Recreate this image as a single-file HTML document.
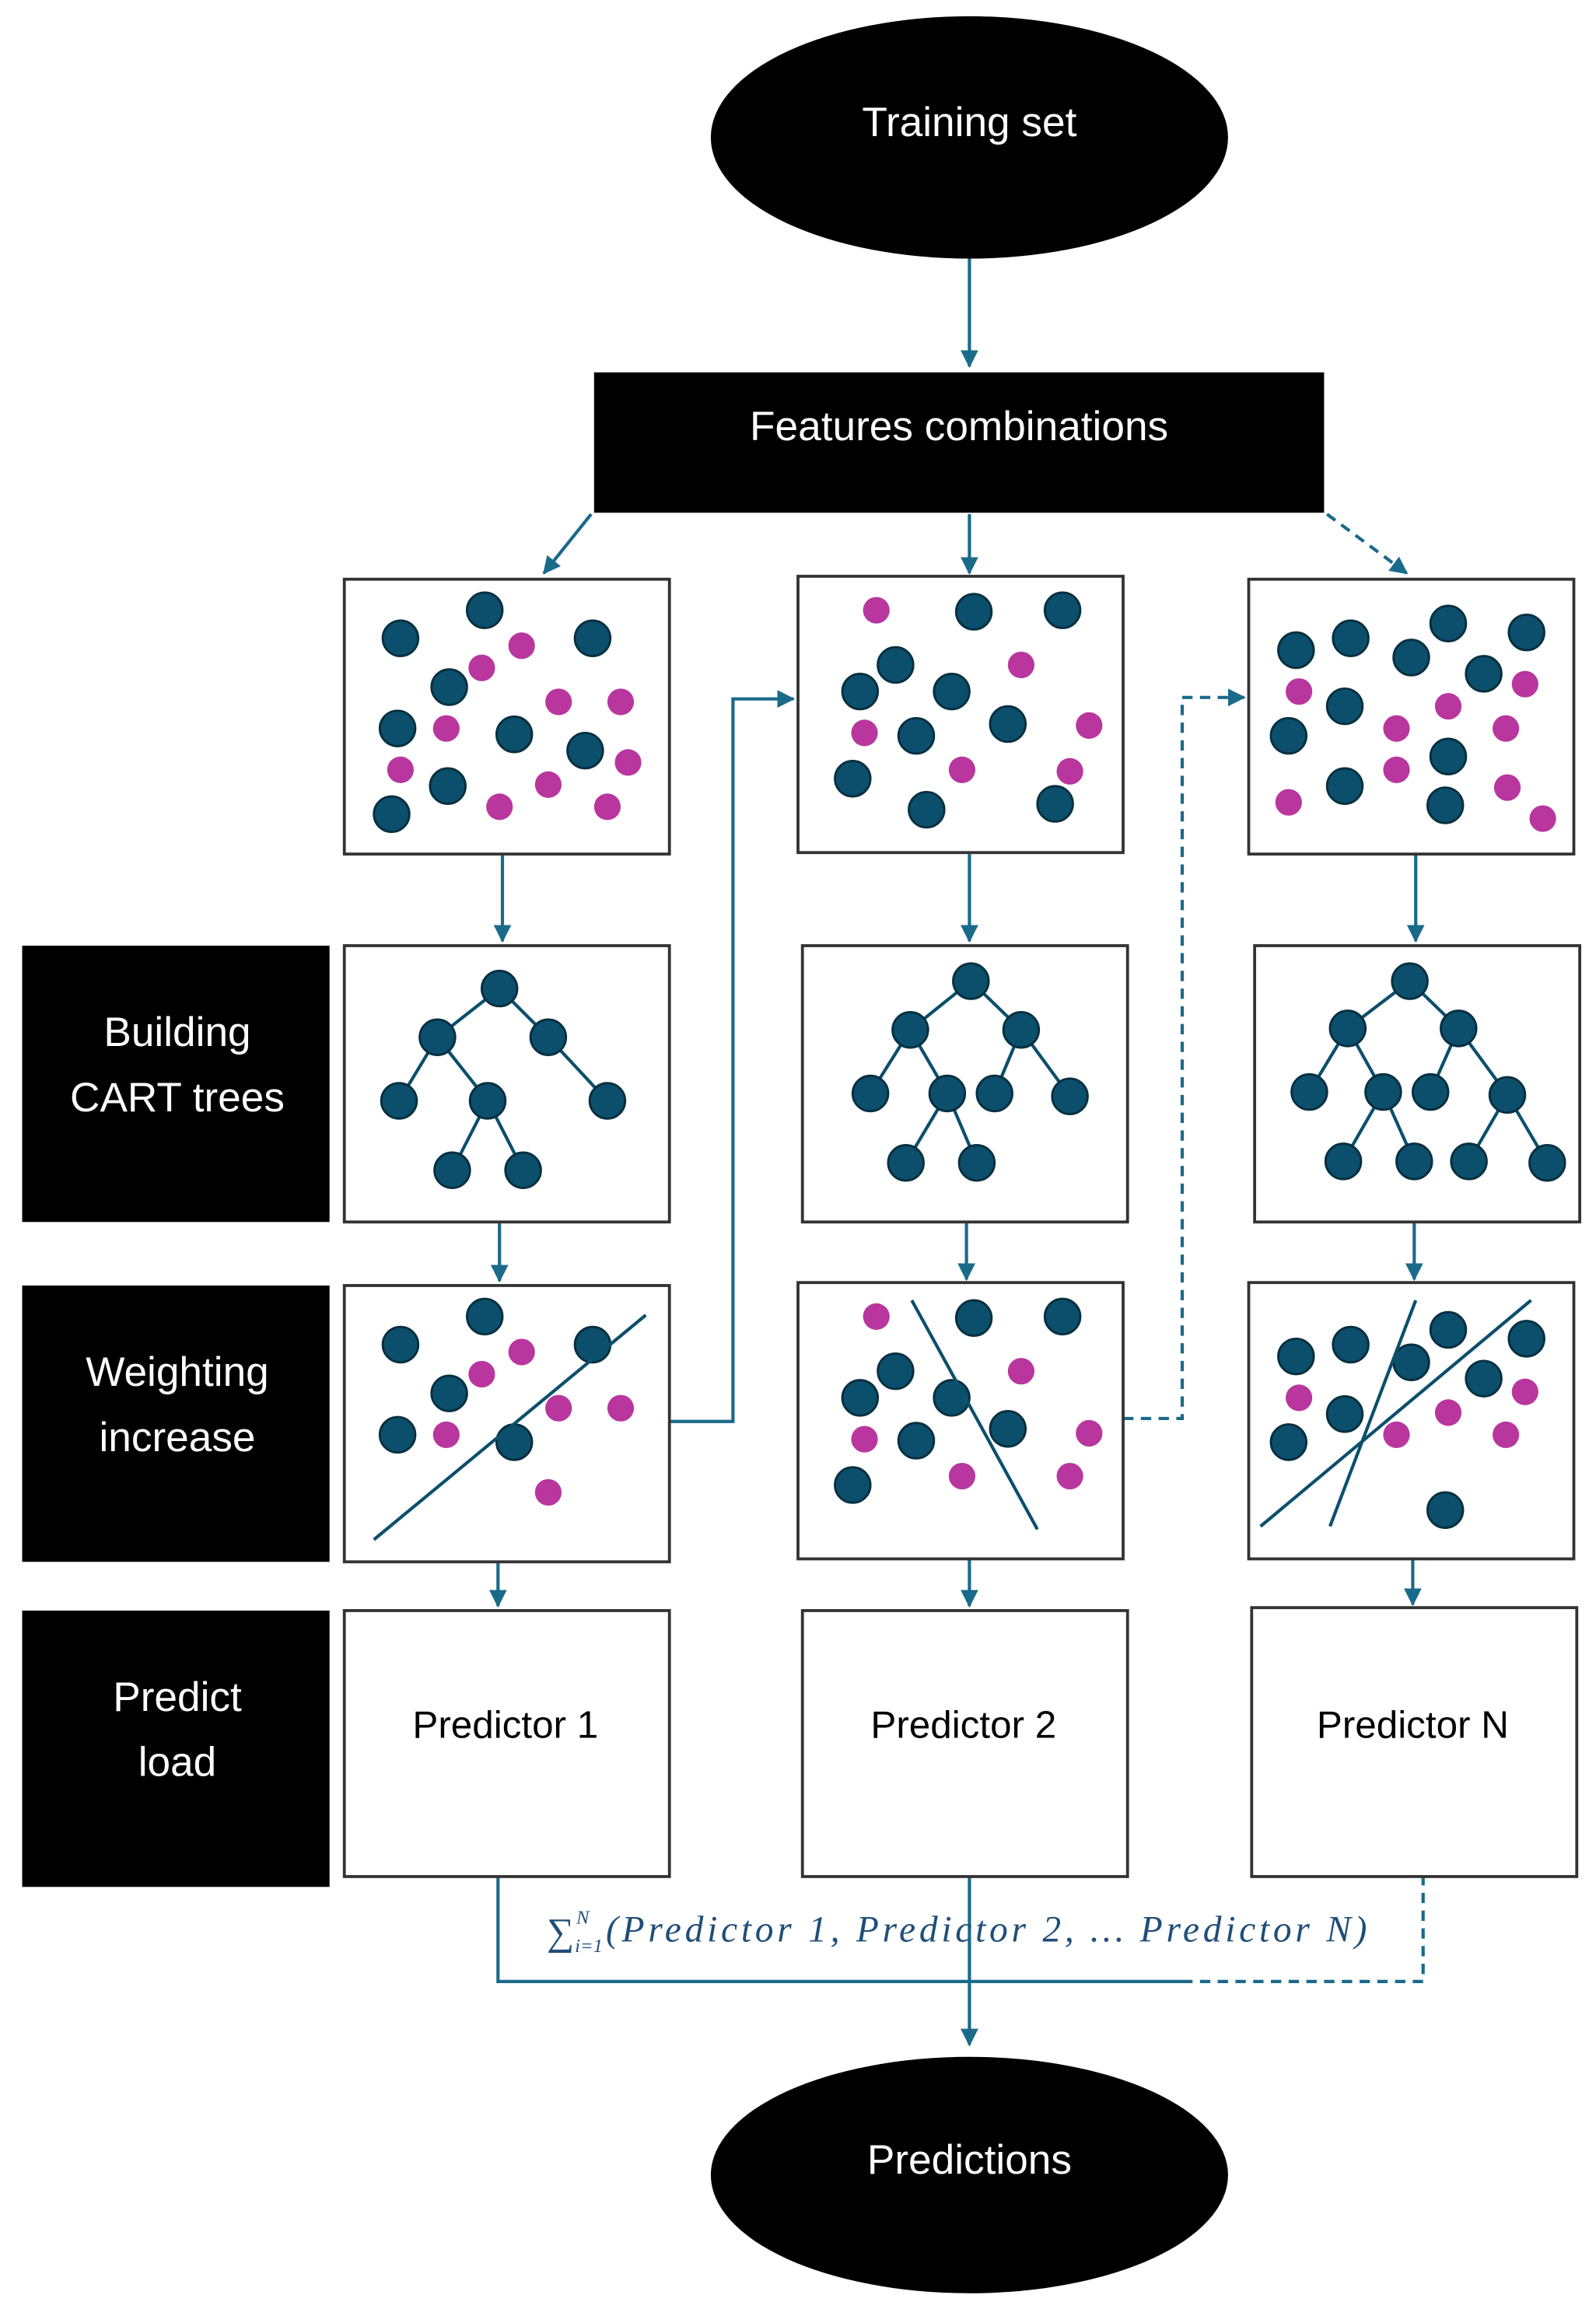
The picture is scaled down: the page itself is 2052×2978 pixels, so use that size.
<!DOCTYPE html>
<html><head><meta charset="utf-8"><style>
html,body{margin:0;padding:0;background:#fff}
svg{display:block}
.s{font-family:"Liberation Sans",sans-serif}
.f{font-family:"Liberation Serif",serif;font-style:italic;fill:#1f4e79}
</style></head><body>
<svg width="2052" height="2978" viewBox="0 0 1080 1567.4" preserveAspectRatio="none" xmlns="http://www.w3.org/2000/svg">
<defs>
<marker id="ar2" markerWidth="12" markerHeight="12" refX="11" refY="6" orient="auto" markerUnits="userSpaceOnUse"><path d="M0,0 L12,6 L0,12 z" fill="#1a6a8a"/></marker>
</defs>
<rect width="1080" height="1568" fill="#fff"/>
<g stroke="#1a6a8a" stroke-width="2.2" fill="none">
<line x1="656" y1="175" x2="656" y2="248" marker-end="url(#ar2)"/>
<line x1="400" y1="348" x2="368" y2="388" marker-end="url(#ar2)"/>
<line x1="656" y1="348" x2="656" y2="388" marker-end="url(#ar2)"/>
<line x1="898" y1="348" x2="952" y2="388" stroke-dasharray="7,5" marker-end="url(#ar2)"/>
<line x1="340" y1="578" x2="340" y2="637" marker-end="url(#ar2)"/>
<line x1="656" y1="578" x2="656" y2="637" marker-end="url(#ar2)"/>
<line x1="958" y1="578" x2="958" y2="637" marker-end="url(#ar2)"/>
<line x1="338" y1="827" x2="338" y2="867" marker-end="url(#ar2)"/>
<line x1="654" y1="827" x2="654" y2="866" marker-end="url(#ar2)"/>
<line x1="957" y1="827" x2="957" y2="866" marker-end="url(#ar2)"/>
<line x1="337" y1="1057" x2="337" y2="1087" marker-end="url(#ar2)"/>
<line x1="656" y1="1055" x2="656" y2="1087" marker-end="url(#ar2)"/>
<line x1="956" y1="1055" x2="956" y2="1086" marker-end="url(#ar2)"/>
<polyline points="453,962 496,962 496,473 537,473" marker-end="url(#ar2)"/>
<polyline points="760,960 800,960 800,472 842,472" stroke-dasharray="7,5" marker-end="url(#ar2)"/>
<polyline points="337,1270 337,1341 800,1341"/>
<polyline points="800,1341 963,1341 963,1270" stroke-dasharray="7,5"/>
<line x1="656" y1="1270" x2="656" y2="1384" marker-end="url(#ar2)"/>
</g>
<ellipse cx="656" cy="93" rx="175" ry="82" fill="#000"/>
<text class="s" x="656" y="92" font-size="28" fill="#fff" text-anchor="middle">Training set</text>
<rect x="402" y="252" width="494" height="95" fill="#000"/>
<text class="s" x="649" y="298" font-size="28" fill="#fff" text-anchor="middle">Features combinations</text>
<ellipse cx="656" cy="1472" rx="175" ry="80" fill="#000"/>
<text class="s" x="656" y="1471" font-size="28" fill="#fff" text-anchor="middle">Predictions</text>
<g fill="#000">
<rect x="15" y="640" width="208" height="187"/>
<rect x="15" y="870" width="208" height="187"/>
<rect x="15" y="1090" width="208" height="187"/>
</g>
<g class="s" font-size="28" fill="#fff" text-anchor="middle">
<text x="120" y="708">Building</text><text x="120" y="752">CART trees</text>
<text x="120" y="938">Weighting</text><text x="120" y="982">increase</text>
<text x="120" y="1158">Predict</text><text x="120" y="1202">load</text>
</g>
<g fill="#fff" stroke="#333" stroke-width="2">
<rect x="233" y="392" width="220" height="186"/><rect x="540" y="390" width="220" height="187"/><rect x="845" y="392" width="220" height="186"/>
<rect x="233" y="640" width="220" height="187"/><rect x="543" y="640" width="220" height="187"/><rect x="849" y="640" width="220" height="187"/>
<rect x="233" y="870" width="220" height="187"/><rect x="540" y="868" width="220" height="187"/><rect x="845" y="868" width="220" height="187"/>
<rect x="233" y="1090" width="220" height="180"/><rect x="543" y="1090" width="220" height="180"/><rect x="847" y="1088" width="220" height="182"/>
</g>
<g class="s" font-size="26" fill="#000" text-anchor="middle">
<text x="342" y="1176">Predictor 1</text><text x="652" y="1176">Predictor 2</text><text x="956" y="1176">Predictor N</text>
</g>
<text class="f" x="370" y="1316" font-size="26" style="font-style:normal">∑</text>
<text class="f" x="390" y="1302" font-size="13">N</text>
<text class="f" x="389" y="1321" font-size="13">i=1</text>
<text class="f" x="410" y="1314" font-size="25" textLength="515" lengthAdjust="spacing">(Predictor 1, Predictor 2, … Predictor N)</text>
<g fill="#0b4f6c" stroke="#062f40" stroke-width="1.5">
<circle cx="271" cy="432" r="12"/><circle cx="328" cy="413" r="12"/><circle cx="401" cy="432" r="12"/><circle cx="304" cy="465" r="12"/><circle cx="269" cy="493" r="12"/><circle cx="348" cy="497" r="12"/><circle cx="396" cy="508" r="12"/><circle cx="303" cy="532" r="12"/><circle cx="265" cy="551" r="12"/>
<circle cx="659" cy="414" r="12"/><circle cx="719" cy="413" r="12"/><circle cx="606" cy="450" r="12"/><circle cx="582" cy="468" r="12"/><circle cx="644" cy="468" r="12"/><circle cx="682" cy="490" r="12"/><circle cx="620" cy="498" r="12"/><circle cx="577" cy="527" r="12"/><circle cx="627" cy="548" r="12"/><circle cx="714" cy="544" r="12"/>
<circle cx="877" cy="440" r="12"/><circle cx="914" cy="432" r="12"/><circle cx="980" cy="422" r="12"/><circle cx="1033" cy="428" r="12"/><circle cx="955" cy="445" r="12"/><circle cx="1004" cy="456" r="12"/><circle cx="910" cy="478" r="12"/><circle cx="872" cy="498" r="12"/><circle cx="980" cy="512" r="12"/><circle cx="910" cy="532" r="12"/><circle cx="978" cy="545" r="12"/>
<circle cx="271" cy="910" r="12"/><circle cx="328" cy="891" r="12"/><circle cx="401" cy="910" r="12"/><circle cx="304" cy="943" r="12"/><circle cx="269" cy="971" r="12"/><circle cx="348" cy="976" r="12"/>
<circle cx="659" cy="892" r="12"/><circle cx="719" cy="891" r="12"/><circle cx="606" cy="928" r="12"/><circle cx="582" cy="946" r="12"/><circle cx="644" cy="946" r="12"/><circle cx="682" cy="967" r="12"/><circle cx="620" cy="975" r="12"/><circle cx="577" cy="1005" r="12"/>
<circle cx="877" cy="918" r="12"/><circle cx="914" cy="910" r="12"/><circle cx="955" cy="922" r="12"/><circle cx="980" cy="900" r="12"/><circle cx="1033" cy="906" r="12"/><circle cx="1004" cy="933" r="12"/><circle cx="910" cy="957" r="12"/><circle cx="872" cy="976" r="12"/><circle cx="978" cy="1022" r="12"/>
</g>
<g fill="#b8369e">
<circle cx="353" cy="437" r="9"/><circle cx="326" cy="452" r="9"/><circle cx="378" cy="475" r="9"/><circle cx="420" cy="475" r="9"/><circle cx="302" cy="493" r="9"/><circle cx="271" cy="521" r="9"/><circle cx="425" cy="516" r="9"/><circle cx="371" cy="531" r="9"/><circle cx="338" cy="546" r="9"/><circle cx="411" cy="546" r="9"/>
<circle cx="593" cy="413" r="9"/><circle cx="691" cy="450" r="9"/><circle cx="585" cy="496" r="9"/><circle cx="737" cy="491" r="9"/><circle cx="651" cy="521" r="9"/><circle cx="724" cy="522" r="9"/>
<circle cx="879" cy="468" r="9"/><circle cx="1032" cy="463" r="9"/><circle cx="945" cy="493" r="9"/><circle cx="980" cy="478" r="9"/><circle cx="1019" cy="493" r="9"/><circle cx="945" cy="521" r="9"/><circle cx="1020" cy="533" r="9"/><circle cx="872" cy="543" r="9"/><circle cx="1044" cy="554" r="9"/>
<circle cx="353" cy="915" r="9"/><circle cx="326" cy="930" r="9"/><circle cx="378" cy="953" r="9"/><circle cx="420" cy="953" r="9"/><circle cx="302" cy="971" r="9"/><circle cx="371" cy="1010" r="9"/>
<circle cx="593" cy="891" r="9"/><circle cx="691" cy="928" r="9"/><circle cx="585" cy="974" r="9"/><circle cx="737" cy="970" r="9"/><circle cx="651" cy="999" r="9"/><circle cx="724" cy="999" r="9"/>
<circle cx="879" cy="946" r="9"/><circle cx="1032" cy="942" r="9"/><circle cx="945" cy="971" r="9"/><circle cx="980" cy="956" r="9"/><circle cx="1019" cy="971" r="9"/>
</g>
<g stroke="#0b4f6c" stroke-width="2.2">
<line x1="253" y1="1042" x2="437" y2="890"/>
<line x1="617" y1="880" x2="702" y2="1035"/>
<line x1="853" y1="1033" x2="1036" y2="880"/>
<line x1="900" y1="1033" x2="958" y2="880"/>
<path d="M338,669L296,702M338,669L371,702M296,702L270,745M296,702L330,745M371,702L411,745M330,745L306,792M330,745L354,792"/>
<path d="M657,664L616,697M657,664L691,697M616,697L589,740M616,697L641,740M691,697L673,740M691,697L724,742M641,740L613,787M641,740L661,787"/>
<path d="M954,664L912,696M954,664L987,696M912,696L886,739M912,696L936,739M987,696L968,739M987,696L1020,741M936,739L909,786M936,739L957,786M1020,741L994,786M1020,741L1047,787"/>
</g>
<g fill="#0b4f6c" stroke="#062f40" stroke-width="1.5">
<circle cx="338" cy="669" r="12"/><circle cx="296" cy="702" r="12"/><circle cx="371" cy="702" r="12"/><circle cx="270" cy="745" r="12"/><circle cx="330" cy="745" r="12"/><circle cx="411" cy="745" r="12"/><circle cx="306" cy="792" r="12"/><circle cx="354" cy="792" r="12"/>
<circle cx="657" cy="664" r="12"/><circle cx="616" cy="697" r="12"/><circle cx="691" cy="697" r="12"/><circle cx="589" cy="740" r="12"/><circle cx="641" cy="740" r="12"/><circle cx="673" cy="740" r="12"/><circle cx="724" cy="742" r="12"/><circle cx="613" cy="787" r="12"/><circle cx="661" cy="787" r="12"/>
<circle cx="954" cy="664" r="12"/><circle cx="912" cy="696" r="12"/><circle cx="987" cy="696" r="12"/><circle cx="886" cy="739" r="12"/><circle cx="936" cy="739" r="12"/><circle cx="968" cy="739" r="12"/><circle cx="1020" cy="741" r="12"/><circle cx="909" cy="786" r="12"/><circle cx="957" cy="786" r="12"/><circle cx="994" cy="786" r="12"/><circle cx="1047" cy="787" r="12"/>
</g>
</svg>
</body></html>
